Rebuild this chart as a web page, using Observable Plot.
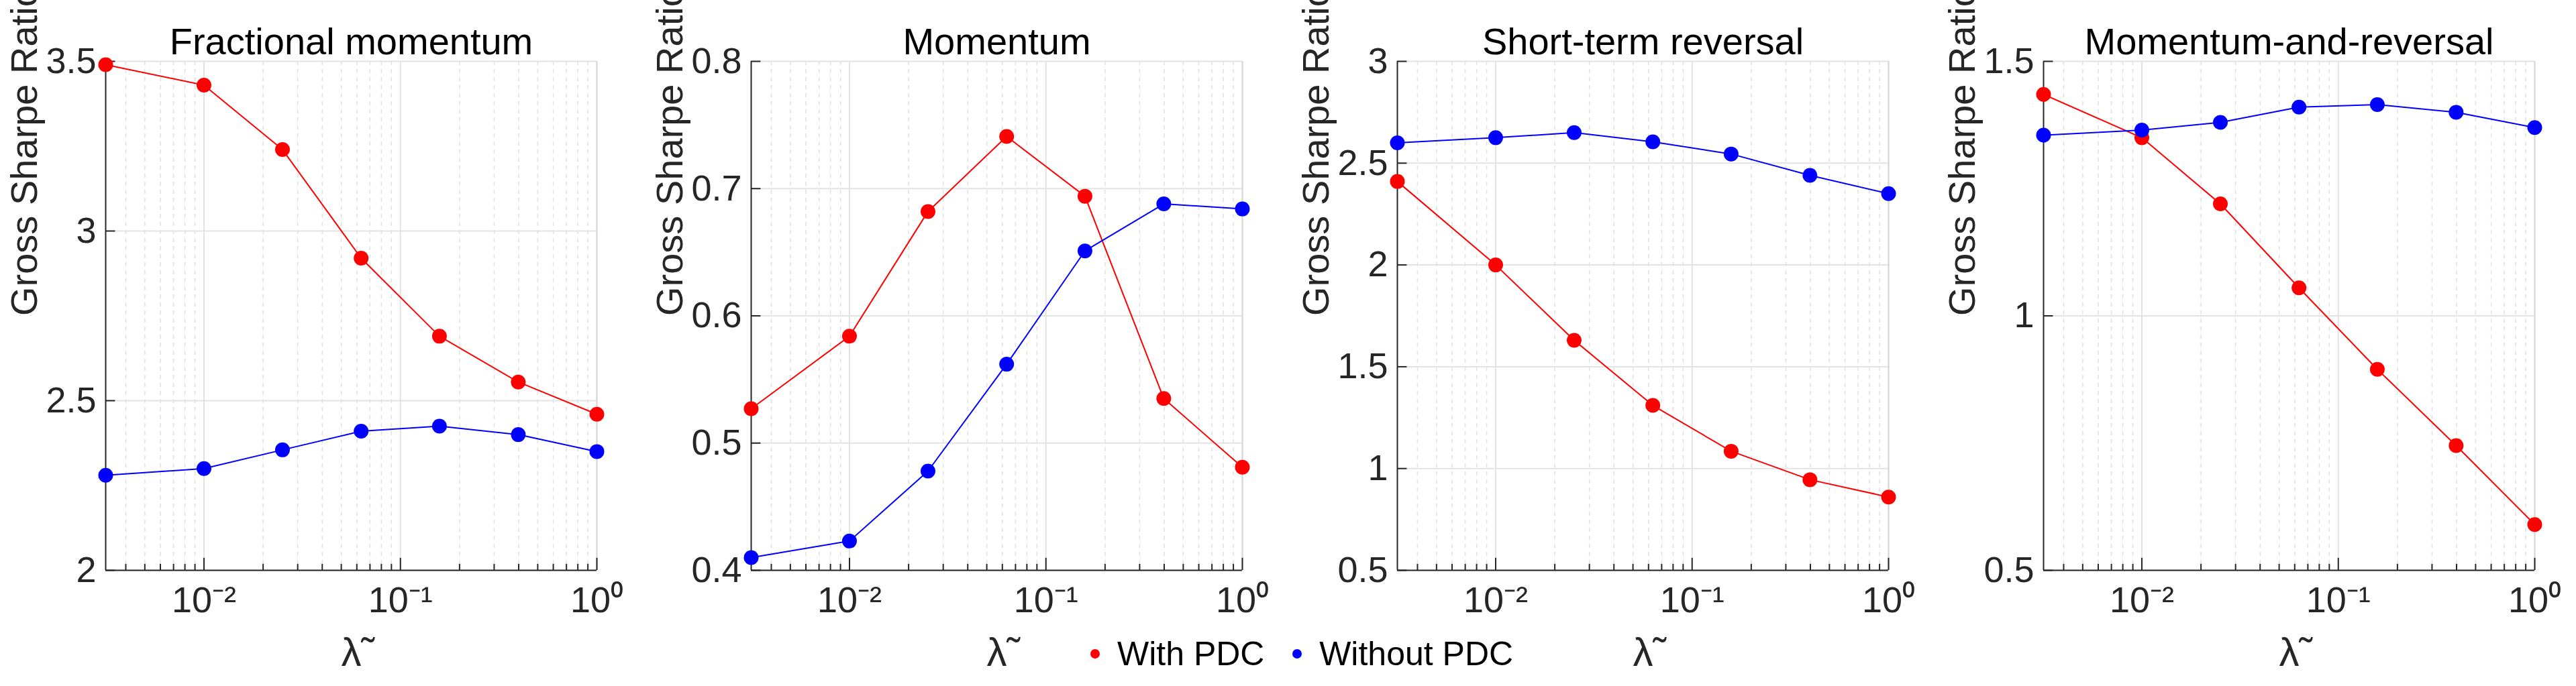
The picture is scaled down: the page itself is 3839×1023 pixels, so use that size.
<!DOCTYPE html>
<html><head><meta charset="utf-8">
<script src="https://cdn.jsdelivr.net/npm/d3@7"></script>
<script src="https://cdn.jsdelivr.net/npm/@observablehq/plot@0.6"></script>
<style>
body{margin:0;background:#fff;font-family:Arial,"Liberation Sans",sans-serif;}
#root{position:relative;width:3839px;height:1023px;overflow:hidden;background:#fff;}
.p{position:absolute;top:0;z-index:1;}
#legend{position:absolute;top:946px;left:1625px;font-size:50px;color:#000;white-space:nowrap;z-index:5;}
#legend span.d{display:inline-block;width:14px;height:14px;border-radius:50%;margin:0 26px 8px 0;vertical-align:middle;}
</style></head>
<body><div id="root"><div id="legend"><span class="d" style="background:#f00"></span>With PDC&nbsp;&nbsp;&nbsp;<span class="d" style="background:#00f"></span>Without PDC</div></div>
<script>
const lambdas = [0.00316, 0.01, 0.0251, 0.0631, 0.158, 0.398, 1];
const titles = ["Fractional momentum", "Momentum", "Short-term reversal", "Momentum-and-reversal"];
const withPDC = [
  [3.49, 3.43, 3.24, 2.92, 2.69, 2.555, 2.46],
  [0.527, 0.584, 0.682, 0.741, 0.694, 0.535, 0.481],
  [2.41, 2.0, 1.63, 1.31, 1.085, 0.945, 0.86],
  [1.435, 1.35, 1.22, 1.055, 0.895, 0.745, 0.59]
];
const withoutPDC = [
  [2.28, 2.30, 2.355, 2.41, 2.425, 2.40, 2.35],
  [0.41, 0.423, 0.478, 0.562, 0.651, 0.688, 0.684],
  [2.60, 2.625, 2.65, 2.605, 2.545, 2.44, 2.35],
  [1.355, 1.365, 1.38, 1.41, 1.415, 1.40, 1.37]
];
const yDomains = [[2, 3.5], [0.4, 0.8], [0.5, 3], [0.5, 1.5]];
const yTicks = [[2, 2.5, 3, 3.5], [0.4, 0.5, 0.6, 0.7, 0.8], [0.5, 1, 1.5, 2, 2.5, 3], [0.5, 1, 1.5]];
const xTicks = [0.01, 0.1, 1];
const xTickLabels = ["10⁻²", "10⁻¹", "10⁰"];
const seriesNames = ["With PDC", "Without PDC"];
const seriesColors = ["#ff0000", "#0000ff"];

const minor = [];
for (const d of [0.001, 0.01, 0.1]) for (let k = 2; k <= 9; k++) { const v = d * k; if (v >= 0.00316 && v <= 1) minor.push(v); }

const lefts = [157, 1119, 2082, 3045];
const ML = 150, MR = 80, W = ML + 732 + MR;
const root = document.getElementById("root");

titles.forEach((t, i) => {
  const data = [];
  lambdas.forEach((l, j) => {
    data.push({l, v: withPDC[i][j], s: seriesNames[0]});
    data.push({l, v: withoutPDC[i][j], s: seriesNames[1]});
  });
  const [y0, y1] = yDomains[i];
  const tickLen = (y1 - y0) * 0.012;
  const chart = Plot.plot({
    width: W, height: 1023,
    marginLeft: ML, marginRight: MR, marginTop: 91, marginBottom: 173,
    style: {fontSize: "54px", fontFamily: "Arial, 'Liberation Sans', sans-serif", color: "#262626", background: "transparent", overflow: "visible"},
    x: {type: "log", domain: [0.00316, 1], label: null},
    y: {domain: yDomains[i], label: null},
    color: {domain: seriesNames, range: seriesColors},
    marks: [
      Plot.ruleX(minor, {stroke: "#e0e0e0", strokeWidth: 1.5, strokeDasharray: "6,6"}),
      Plot.ruleX(xTicks, {stroke: "#e3e3e3", strokeWidth: 2}),
      Plot.ruleY(yTicks[i], {stroke: "#e3e3e3", strokeWidth: 2}),
      Plot.ruleX([1], {stroke: "#d8d8d8", strokeWidth: 2}),
      Plot.ruleX(minor.concat(xTicks), {y1: y0, y2: d => y0 + (xTicks.includes(d) ? 2 : 1) * tickLen, stroke: "#262626", strokeWidth: 2}),
      Plot.ruleY(yTicks[i], {x1: 0.00316, x2: 0.00316 * 1.12, stroke: "#262626", strokeWidth: 2}),
      Plot.axisX(xTicks, {tickSize: 0, tickPadding: 24, fontSize: 54, tickFormat: d => xTickLabels[xTicks.indexOf(d)], label: null}),
      Plot.axisY(yTicks[i], {tickSize: 0, tickPadding: 14, fontSize: 54, tickFormat: d3.format("~g"), label: null}),
      Plot.ruleX([0.00316], {stroke: "#262626", strokeWidth: 2}),
      Plot.ruleY([y0], {stroke: "#262626", strokeWidth: 2}),
      Plot.line(data, {x: "l", y: "v", stroke: "s", strokeWidth: 2}),
      Plot.dot(data, {x: "l", y: "v", fill: "s", r: 11, clip: false}),
      Plot.text([t], {frameAnchor: "top", dy: -50, text: d => d, fontSize: 56, fill: "#000"}),
      Plot.text(["Gross Sharpe Ratio"], {frameAnchor: "left", dx: -120, rotate: -90, text: d => d, fontSize: 56, fill: "#262626"}),
      Plot.text(["λ̃"], {frameAnchor: "bottom", dy: 142, text: d => d, fontSize: 60, fill: "#262626", fontFamily: "Liberation Sans"})
    ]
  });
  chart.classList.add("p");
  chart.style.left = (lefts[i] - ML) + "px";
  root.appendChild(chart);
});
</script></body></html>
